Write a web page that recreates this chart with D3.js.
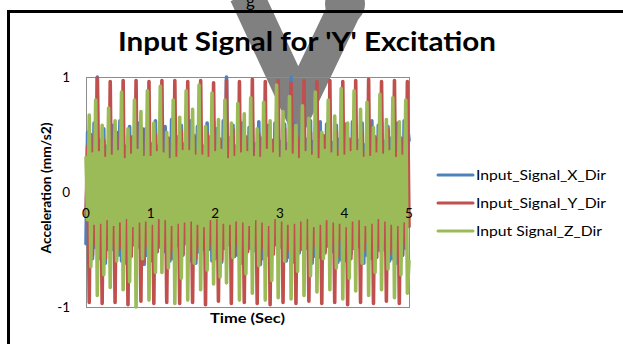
<!DOCTYPE html>
<html><head><meta charset="utf-8">
<script src="https://cdn.jsdelivr.net/npm/d3@7/dist/d3.min.js"></script>
<style>body{margin:0;background:#fff;overflow:hidden} text{font-family:Lato,"Open Sans",sans-serif}</style>
</head><body><svg id="c" width="623" height="344"></svg>
<script>
// ---- data ----
const sampleStep = 0.025;            // seconds between samples
const xTickLabels = [0, 1, 2, 3, 4, 5];
const yTickLabels = [-1, 0, 1];
const seriesNames = ["Input_Signal_X_Dir", "Input_Signal_Y_Dir", "Input Signal_Z_Dir"];
const seriesColors = ["#4F81BD", "#C0504D", "#9BBB59"];

const inputX = [
-0.45,0.52,-0.40,0.40,-0.58,0.60,-0.48,1.00,
-0.58,0.45,-0.42,0.55,-0.62,0.40,-0.50,0.62,
-0.50,0.58,-0.38,0.42,-0.55,0.62,-0.60,0.58,
-0.62,0.40,-0.45,0.57,-0.50,0.48,-0.46,0.60,
-0.48,0.60,-0.40,0.45,-0.63,0.55,-0.55,0.63,
-0.60,0.42,-0.43,0.62,-0.52,0.40,-0.48,0.58,
-0.52,0.57,-0.38,0.40,-0.60,0.63,-0.58,0.60,
-0.47,0.48,-0.44,0.58,-0.55,0.42,-0.45,0.62,
-0.60,0.62,-0.40,0.45,-0.62,0.57,-0.52,0.59,
-0.50,0.40,-0.42,0.60,-0.48,0.48,-0.60,0.61,
-0.58,0.55,-0.39,0.43,-0.61,0.62,-0.47,1.00,
-0.46,0.47,-0.45,0.58,-0.56,0.40,-0.55,0.63,
-0.62,0.60,-0.41,0.42,-0.52,0.56,-0.49,0.60,
-0.51,0.42,-0.38,0.61,-0.63,0.47,-0.58,0.59,
-0.55,0.58,-0.44,0.45,-0.50,0.60,-0.46,0.62,
-0.48,0.44,-0.40,0.59,-0.60,0.42,-0.57,1.00,
-0.61,0.60,-0.43,0.41,-0.53,0.58,-0.50,0.60,
-0.49,0.46,-0.39,0.62,-0.62,0.44,-0.56,0.61,
-0.57,0.61,-0.42,0.44,-0.51,0.59,-0.47,0.58,
-0.52,0.43,-0.45,0.58,-0.61,0.46,-0.59,0.62,
-0.60,0.59,-0.40,0.43,-0.54,0.61,-0.48,0.60,
-0.47,0.45,-0.43,0.60,-0.62,0.41,-0.55,0.59,
-0.58,0.62,-0.38,0.46,-0.50,0.58,-0.51,0.61,
-0.50,0.44,-0.44,0.57,-0.60,0.47,-0.58,0.60,
-0.62,0.60,-0.41,0.43,-0.55,0.62,-0.49,0.58,
0.45];

const inputY = [
-0.20,0.40,-0.96,0.50,-0.55,0.35,-0.45,0.99,
-0.50,0.30,-0.97,0.45,-0.58,0.33,-0.42,0.96,
-0.45,0.32,-0.96,0.52,-0.50,0.30,-0.48,0.97,
-0.52,0.28,-0.98,0.48,-0.56,0.34,-0.40,0.97,
-0.47,0.33,-0.95,0.55,-0.60,0.31,-0.46,0.96,
-0.55,0.30,-0.97,0.50,-0.52,0.36,-0.44,0.97,
-0.48,0.34,-0.96,0.47,-0.57,0.29,-0.50,0.97,
-0.44,0.31,-0.97,0.53,-0.54,0.33,-0.41,0.96,
-0.53,0.29,-0.96,0.49,-0.58,0.35,-0.47,0.97,
-0.46,0.33,-0.98,0.51,-0.50,0.30,-0.43,0.95,
-0.50,0.30,-0.95,0.46,-0.59,0.34,-0.49,0.97,
-0.43,0.35,-0.97,0.54,-0.55,0.31,-0.45,0.96,
-0.56,0.28,-0.96,0.48,-0.52,0.36,-0.40,0.98,
-0.47,0.32,-0.97,0.50,-0.60,0.30,-0.48,0.96,
-0.52,0.34,-0.98,0.45,-0.54,0.33,-0.44,0.97,
-0.45,0.29,-0.96,0.55,-0.57,0.35,-0.50,0.95,
-0.54,0.33,-0.97,0.47,-0.51,0.28,-0.42,0.97,
-0.48,0.31,-0.95,0.52,-0.59,0.34,-0.46,0.96,
-0.50,0.35,-0.97,0.49,-0.53,0.30,-0.47,0.97,
-0.44,0.28,-0.96,0.53,-0.56,0.36,-0.41,0.96,
-0.55,0.32,-0.98,0.46,-0.58,0.31,-0.49,0.97,
-0.47,0.34,-0.96,0.51,-0.50,0.33,-0.43,0.98,
-0.51,0.30,-0.97,0.48,-0.57,0.29,-0.46,0.96,
-0.46,0.33,-0.95,0.54,-0.53,0.35,-0.48,0.97,
-0.53,0.31,-0.97,0.47,-0.55,0.32,-0.44,0.96,
-0.30];

const inputZ = [
0.30,-0.24,0.67,-0.65,0.33,-0.27,0.80,-0.90,
0.34,-0.26,0.58,-0.72,0.29,-0.23,0.73,-0.83,
0.31,-0.28,0.62,-0.60,0.35,-0.25,0.87,-0.85,
0.28,-0.22,0.55,-0.78,0.32,-0.29,0.80,-1.00,
0.36,-0.25,0.70,-0.58,0.30,-0.24,0.88,-0.94,
0.30,-0.27,0.60,-0.70,0.34,-0.22,0.92,-0.70,
0.33,-0.23,0.52,-0.66,0.28,-0.28,0.80,-0.97,
0.29,-0.26,0.65,-0.75,0.35,-0.25,0.88,-0.94,
0.35,-0.24,0.72,-0.62,0.31,-0.27,0.93,-0.85,
0.31,-0.29,0.57,-0.68,0.29,-0.23,0.86,-0.80,
0.34,-0.22,0.63,-0.74,0.36,-0.26,0.80,-0.79,
0.28,-0.27,0.60,-0.57,0.30,-0.24,0.77,-0.94,
0.33,-0.25,0.68,-0.71,0.34,-0.28,0.82,-0.88,
0.30,-0.23,0.55,-0.64,0.29,-0.25,0.78,-0.94,
0.36,-0.28,0.62,-0.77,0.33,-0.22,0.93,-0.92,
0.29,-0.24,0.70,-0.60,0.35,-0.27,0.83,-0.93,
0.32,-0.26,0.58,-0.69,0.28,-0.24,0.75,-0.90,
0.34,-0.22,0.64,-0.73,0.31,-0.29,0.87,-0.87,
0.28,-0.27,0.52,-0.58,0.36,-0.23,0.80,-0.85,
0.33,-0.25,0.66,-0.66,0.30,-0.26,0.90,-0.93,
0.31,-0.29,0.60,-0.75,0.34,-0.24,0.88,-0.86,
0.35,-0.23,0.72,-0.62,0.29,-0.28,0.78,-0.90,
0.30,-0.26,0.56,-0.70,0.33,-0.22,0.85,-0.85,
0.32,-0.24,0.63,-0.67,0.35,-0.27,0.82,-0.92,
0.29,-0.28,0.61,-0.72,0.31,-0.25,0.80,-0.88,
-0.60];

// ---- drawing ----
const svg = d3.select("#c");
const W = 623, H = 344;
const plot = {left: 86, right: 409, top: 77, bottom: 307};
const x = d3.scaleLinear().domain([0, 5]).range([plot.left, plot.right]);
const y = d3.scaleLinear().domain([-1, 1]).range([plot.bottom, plot.top]);

svg.append("rect").attr("width", W).attr("height", H).attr("fill", "#fff");

// watermark (behind everything)
const wm = svg.append("g").attr("stroke", "#808080").attr("fill", "none").attr("stroke-width", 34);
wm.append("path").attr("d", "M246,-6 L298,106 L344,10").attr("stroke-linejoin", "miter");
svg.append("circle").attr("cx", 345).attr("cy", 4).attr("r", 20).attr("fill", "#808080");
svg.append("text").attr("x", 246).attr("y", 7).attr("font-size", 17).attr("fill", "#000").text("g");

// chart frame
svg.append("rect").attr("x", 8.5).attr("y", 11.5).attr("width", 700).attr("height", 400)
  .attr("fill", "none").attr("stroke", "#000").attr("stroke-width", 3);

// title
svg.append("text").attr("x", 118).attr("y", 51).attr("font-size", 27).attr("font-weight", "bold")
  .attr("textLength", 378).attr("lengthAdjust", "spacingAndGlyphs").attr("fill", "#000")
  .text("Input Signal for 'Y' Excitation");

// plot area border
svg.append("rect").attr("x", plot.left + 0.5).attr("y", plot.top + 0.5)
  .attr("width", plot.right - plot.left).attr("height", plot.bottom - plot.top)
  .attr("fill", "none").attr("stroke", "#8c8c8c").attr("stroke-width", 1);
// horizontal axis line at y = 0
svg.append("line").attr("x1", plot.left).attr("x2", plot.right)
  .attr("y1", Math.round(y(0)) + 0.5).attr("y2", Math.round(y(0)) + 0.5)
  .attr("stroke", "#8c8c8c");

// series
const seriesData = [inputX, inputY, inputZ];
const line = d3.line().x((d, i) => x(i * sampleStep)).y(d => y(d));
seriesData.forEach((vals, s) => {
  svg.append("path").datum(vals).attr("d", line)
    .attr("fill", "none").attr("stroke", seriesColors[s]).attr("stroke-width", 3.6)
    .attr("stroke-linejoin", "round").attr("stroke-linecap", "round");
});

// x tick labels (axis crosses at 0)
svg.append("g").selectAll("text").data(xTickLabels).join("text")
  .attr("x", d => x(d)).attr("y", y(0) + 26).attr("text-anchor", "middle")
  .attr("font-size", 13.5).attr("fill", "#000").text(d => d);

// y tick labels
svg.append("g").selectAll("text").data(yTickLabels).join("text")
  .attr("x", 70).attr("y", d => y(d) + 5).attr("text-anchor", "end")
  .attr("font-size", 13.5).attr("fill", "#000").text(d => d);

// axis titles
svg.append("text").attr("transform", "translate(51," + (188 + 65.5) + ") rotate(-90)")
  .attr("x", 0).attr("y", 0).attr("font-size", 13).attr("font-weight", "bold")
  .attr("textLength", 131).attr("lengthAdjust", "spacingAndGlyphs").attr("fill", "#000")
  .text("Acceleration (mm/s2)");
svg.append("text").attr("x", 210).attr("y", 323).attr("font-size", 13).attr("font-weight", "bold")
  .attr("textLength", 75).attr("lengthAdjust", "spacingAndGlyphs").attr("fill", "#000")
  .text("Time (Sec)");

// legend
const legendY = [175, 203, 231];
const legendLen = [130, 130, 126];
const lg = svg.append("g");
seriesNames.forEach((name, s) => {
  lg.append("line").attr("x1", 438).attr("x2", 473).attr("y1", legendY[s]).attr("y2", legendY[s])
    .attr("stroke", seriesColors[s]).attr("stroke-width", 3).attr("stroke-linecap", "round");
  lg.append("text").attr("x", 476).attr("y", legendY[s] + 4.5).attr("font-size", 12.5)
    .attr("textLength", legendLen[s]).attr("lengthAdjust", "spacingAndGlyphs")
    .attr("fill", "#000").text(name);
});
</script></body></html>
